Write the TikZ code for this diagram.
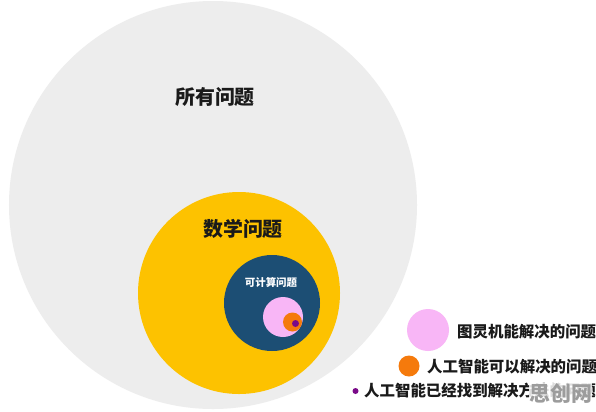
\documentclass[tikz,border=0pt]{standalone}
\usepackage{fontspec}
\newfontfamily\cjk{Noto Sans CJK SC}
\definecolor{allgray}{HTML}{EDEDED}
\definecolor{mathyellow}{HTML}{FDC200}
\definecolor{compblue}{HTML}{1C4E74}
\definecolor{turingpink}{HTML}{F8B6F6}
\definecolor{aiorange}{HTML}{F57A0C}
\definecolor{aipurple}{HTML}{7A0A88}
\definecolor{txt}{HTML}{1A1A1A}
\definecolor{wmgray}{HTML}{9C9C9C}
\begin{document}
\begin{tikzpicture}[x=1bp,y=-1bp,
  disc/.style={circle,inner sep=0pt,draw=none},
  lbl/.style={inner sep=0pt,text=txt,font=\cjk\bfseries},
  leg/.style={lbl,anchor=west,font=\cjk\bfseries\fontsize{15.5}{18}\selectfont}]
\useasboundingbox (0,0) rectangle (596,411);
\fill[white] (0,0) rectangle (596,411);
\node[disc,fill=allgray,minimum size=408bp] (all) at (213,205) {};
\node[disc,fill=mathyellow,minimum size=202bp] (math) at (239,293) {};
\node[disc,fill=compblue,minimum size=96bp] (comp) at (272,303) {};
\node[disc,fill=turingpink,minimum size=40bp] (turing) at (283,317) {};
\node[disc,fill=aiorange,minimum size=19bp] (ai) at (292.5,322) {};
\node[disc,fill=aipurple,minimum size=7bp] (aidone) at (295.5,323.5) {};
\node[lbl,font=\cjk\bfseries\fontsize{20}{24}\selectfont] (tall) at (215,97) {所有问题};
\node[lbl,font=\cjk\bfseries\fontsize{20}{24}\selectfont] (tmath) at (243,229) {数学问题};
\node[lbl,text=white,font=\cjk\bfseries\fontsize{10.5}{12}\selectfont] (tcomp) at (271,282) {可计算问题};
\node[disc,fill=turingpink,minimum size=42bp] (lturing) at (428,330) {};
\node[disc,fill=aiorange,minimum size=21bp] (lai) at (409,366) {};
\node[disc,fill=aipurple,minimum size=6bp] (laidone) at (355.5,391) {};
\node[leg] (tturing) at (457,332) {图灵机能解决的问题};
\node[leg] (tai) at (427,367) {人工智能可以解决的问题};
\node[leg] (taidone) at (364,391) {人工智能已经找到解决方法的问题};
\node[inner sep=0pt,text=wmgray,fill=white,fill opacity=0.85,text opacity=1,font=\cjk\bfseries\fontsize{21}{24}\selectfont,anchor=west] (wm) at (529,393) {思创网};
\end{tikzpicture}
\end{document}
